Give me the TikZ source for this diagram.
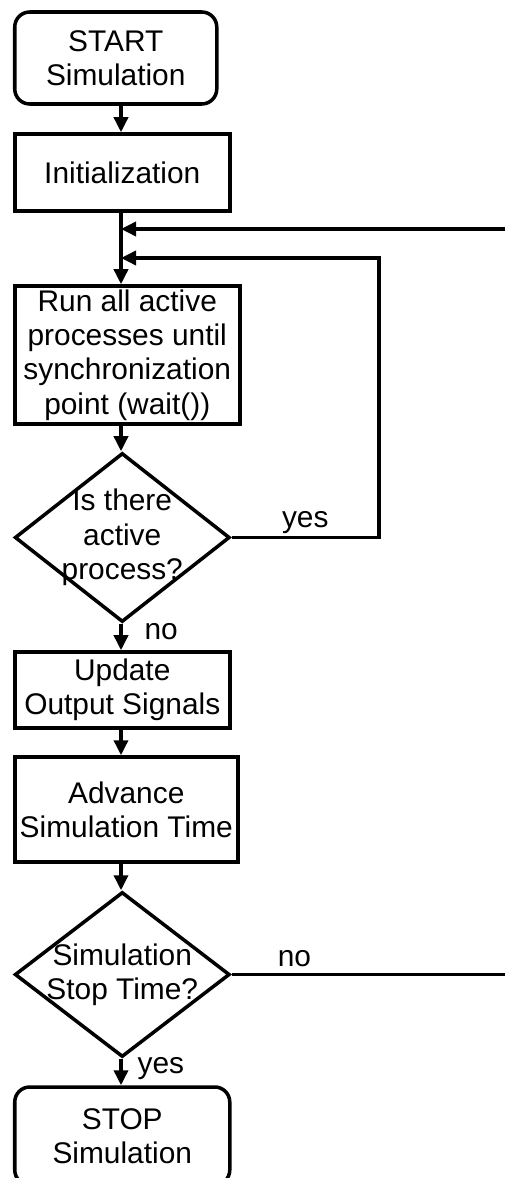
\documentclass[tikz,border=0pt]{standalone}
\usepackage{fontspec}
\setmainfont{Liberation Sans}
\usetikzlibrary{shapes.geometric}
\usetikzlibrary{arrows.meta}

\begin{document}
\begin{tikzpicture}[line width=2pt,>={Triangle[length=0.3cm,width=0.28cm]},
		font=\fontsize{17}{19.5}\selectfont,
		box/.style={rectangle,draw,align=center,inner sep=1pt,anchor=west},
		term/.style={box,rounded corners=0.3cm},
		decision/.style={diamond,draw,inner sep=0pt,anchor=west,minimum width=4.3cm}]
		\useasboundingbox (0,0) rectangle (10.1,-23.56);
		\path (0.26,-1.16) node(start)[term,minimum width=4.04cm,minimum height=1.84cm]{START\\Simulation}
		(0.26,-3.45) node(init)[box,minimum width=4.3cm,minimum height=1.54cm]{Initialization}
		(0.26,-7.10) node(run)[box,minimum width=4.5cm,minimum height=2.76cm]{Run all active\\processes until\\synchronization\\point (wait())}
		(0.26,-10.75) node(q1)[decision,minimum height=3.38cm,label={[align=center]center:{Is there\\active\\process?}}]{}
		(0.26,-13.80) node(upd)[box,minimum width=4.3cm,minimum height=1.52cm]{Update\\Output Signals}
		(0.26,-16.19) node(adv)[box,minimum width=4.46cm,minimum height=2.1cm]{Advance\\Simulation Time}
		(0.26,-19.49) node(q2)[decision,minimum height=3.3cm,label={[align=center]center:{Simulation\\Stop Time?}}]{}
		(0.26,-22.72) node(stop)[term,minimum width=4.3cm,minimum height=1.96cm]{STOP\\Simulation};
		\coordinate (spine) at (2.42,0);
		\coordinate (back1) at (10.1,-4.58);
		\coordinate (back2) at (7.58,-5.16);
		\draw [->] (start.south -| spine) to (init.north -| spine);
		\draw [->] (init.south -| spine) to (run.north -| spine);
		\draw [->] (back1) to (back1 -| spine);
		\draw [->] (q1.east) -- node[above,inner sep=1pt]{yes} (q1.east -| back2) -- (back2) -- (back2 -| spine);
		\draw [->] (run.south -| spine) to (q1.north -| spine);
		\draw [->] (q1.south -| spine) -- node[pos=0.29,right=0.32cm]{no} (upd.north -| spine);
		\draw [->] (upd.south -| spine) to (adv.north -| spine);
		\draw [->] (adv.south -| spine) to (q2.north -| spine);
		\draw (q2.east) -- node[pos=0.23,above]{no} (q2.east -| back1);
		\draw [->] (q2.south -| spine) -- node[pos=0.38,right=0.18cm]{yes} (stop.north -| spine);
	\end{tikzpicture}
\end{document}
